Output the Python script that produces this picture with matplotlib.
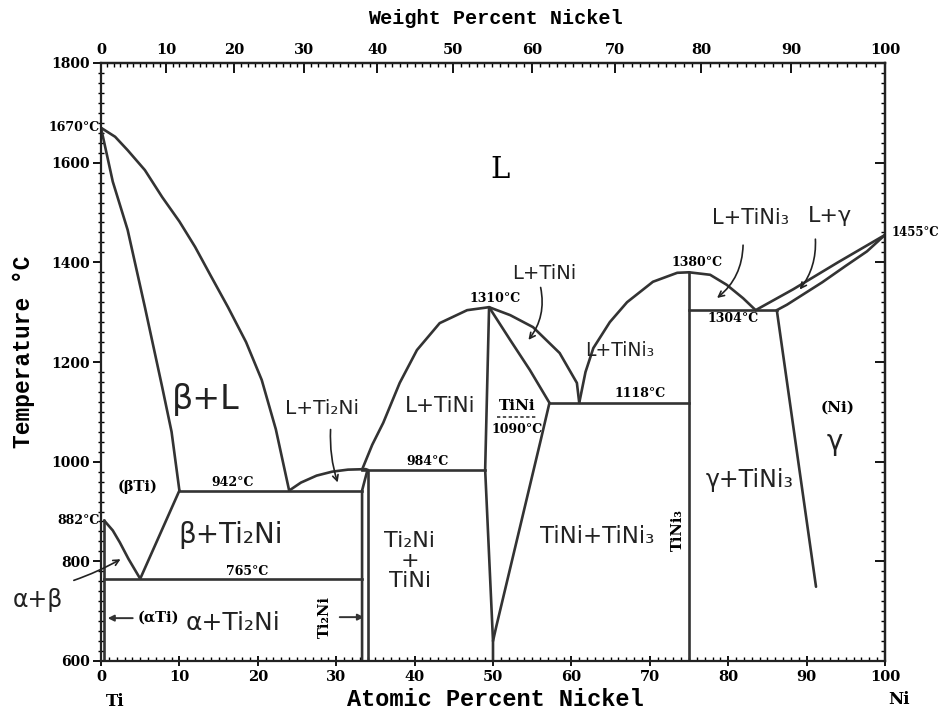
import numpy as np
import matplotlib
matplotlib.use('Agg')
from matplotlib import pyplot as plt
from matplotlib.ticker import MultipleLocator, FixedLocator

###################
# Phase boundaries (atomic % Ni, temperature C)
###################
liq_ti_x = [0, 1.8, 3.4, 5.6, 7.8, 10, 12, 14, 16.2, 18.5, 20.5, 22.3, 24]
liq_ti_t = [1670, 1652, 1625, 1585, 1531, 1482, 1431, 1373, 1310, 1240, 1164, 1065, 942]

sol_ti_x = [0, 1.5, 3.4, 5.6, 7.8, 9.0, 10]
sol_ti_t = [1670, 1562, 1465, 1310, 1150, 1060, 942]

beta_tr_x = [10, 5]
beta_tr_t = [942, 765]

alpha_tr_x = [0.4, 1.5, 2.4, 3.5, 5]
alpha_tr_t = [882, 862, 838, 805, 765]

alpha_sol_x = [0.4, 0.4]
alpha_sol_t = [882, 600]

liq_ti2ni_x = [24, 25.5, 27.5, 29.5, 31.5, 33.8]
liq_ti2ni_t = [942, 958, 972, 980, 984, 985]

ti2ni_left_x = [33.3, 33.3, 34.0]
ti2ni_left_t = [600, 942, 984]
ti2ni_right_x = [34.0, 34.0]
ti2ni_right_t = [984, 600]

liq_tini_l_x = [33.3, 34.6, 36.0, 38.1, 40.3, 43.2, 46.7, 49.5]
liq_tini_l_t = [984, 1034, 1078, 1158, 1224, 1278, 1304, 1310]

tini_left_x = [49.5, 49.0, 50.0, 50.0]
tini_left_t = [1310, 984, 640, 600]

sol_tini_x = [49.5, 52.2, 54.7, 57.2]
sol_tini_t = [1310, 1244, 1184, 1118]

tini_right_x = [57.2, 56.1, 50.4, 50.0]
tini_right_t = [1118, 1044, 668, 640]

liq_tini_r_x = [49.5, 52.2, 55.1, 58.5, 60.7, 61.0]
liq_tini_r_t = [1310, 1294, 1270, 1218, 1158, 1118]

liq_tini3_l_x = [61.0, 61.8, 62.8, 64.9, 67.1, 70.4, 73.5, 75.0]
liq_tini3_l_t = [1118, 1180, 1228, 1280, 1320, 1361, 1379, 1380]

liq_tini3_r_x = [75.0, 77.7, 79.8, 81.9, 83.5]
liq_tini3_r_t = [1380, 1375, 1355, 1328, 1304]

tini3_x = [75, 75]
tini3_t = [1380, 600]

gamma_sol_x = [86.2, 91.2]
gamma_sol_t = [1304, 749]

liq_ni_x = [83.5, 88.3, 94, 100]
liq_ni_t = [1304, 1346, 1400, 1455]

sol_ni_x = [86.2, 87.5, 89.2, 92, 95, 97.7, 100]
sol_ni_t = [1304, 1315, 1332, 1360, 1393, 1422, 1455]

# horizontal invariant lines: (x start, x end, temperature)
iso_x0 = [0.4, 10, 33.3, 57.2, 75]
iso_x1 = [33.3, 33.3, 49.0, 75, 86.2]
iso_t = [765, 942, 984, 1118, 1304]

# colours / fonts
line_col = '#333333'
lw = 1.9
hand = 'DejaVu Sans'
printed = ['DejaVu Serif']
mono = ['Liberation Mono', 'DejaVu Sans Mono']

M_NI = 58.69
M_TI = 47.87


def at_to_wt(a):
    a = np.asarray(a, dtype=float)
    return 100 * a * M_NI / (a * M_NI + (100 - a) * M_TI)


def wt_to_at(w):
    w = np.asarray(w, dtype=float)
    return 100 * (w / M_NI) / (w / M_NI + (100 - w) / M_TI)


fig = plt.figure(figsize=(9.43, 7.11), dpi=100)
ax = fig.add_axes([101 / 943, 50 / 711, 784 / 943, 598 / 711])
ax.set_xlim(0, 100)
ax.set_ylim(600, 1800)

curves = [
    (liq_ti_x, liq_ti_t), (sol_ti_x, sol_ti_t), (beta_tr_x, beta_tr_t),
    (alpha_tr_x, alpha_tr_t), (alpha_sol_x, alpha_sol_t),
    (liq_ti2ni_x, liq_ti2ni_t), (ti2ni_left_x, ti2ni_left_t),
    (ti2ni_right_x, ti2ni_right_t), (liq_tini_l_x, liq_tini_l_t),
    (tini_left_x, tini_left_t), (sol_tini_x, sol_tini_t),
    (tini_right_x, tini_right_t), (liq_tini_r_x, liq_tini_r_t),
    (liq_tini3_l_x, liq_tini3_l_t), (liq_tini3_r_x, liq_tini3_r_t),
    (tini3_x, tini3_t), (gamma_sol_x, gamma_sol_t),
    (liq_ni_x, liq_ni_t), (sol_ni_x, sol_ni_t),
]
for cx, ct in curves:
    ax.plot(cx, ct, color=line_col, lw=lw, solid_capstyle='round', solid_joinstyle='round')

for x0, x1, t in zip(iso_x0, iso_x1, iso_t):
    ax.plot([x0, x1], [t, t], color=line_col, lw=lw)

# dashed line under "TiNi"
ax.plot([50.5, 55.6], [1090, 1090], color=line_col, lw=1.2, ls=(0, (2, 1.5)))

# Axes styling
for s in ax.spines.values():
    s.set_linewidth(1.6)
    s.set_color('#222222')

ax.xaxis.set_major_locator(MultipleLocator(10))
ax.xaxis.set_minor_locator(MultipleLocator(1))
ax.yaxis.set_major_locator(MultipleLocator(200))
ax.yaxis.set_minor_locator(MultipleLocator(20))
ax.tick_params(axis='x', which='major', direction='inout', length=7, width=1.3,
               labelsize=10.5, pad=3)
ax.tick_params(axis='x', which='minor', direction='in', length=3, width=1)
ax.tick_params(axis='y', which='major', direction='out', length=6, width=1.3,
               labelsize=10, pad=2)
ax.tick_params(axis='y', which='minor', direction='inout', length=4, width=1)
for lab in ax.get_xticklabels() + ax.get_yticklabels():
    lab.set_fontfamily(printed)
    lab.set_fontweight('bold')

# right axis: inward ticks, no labels
right = ax.secondary_yaxis('right')
right.yaxis.set_major_locator(MultipleLocator(200))
right.yaxis.set_minor_locator(MultipleLocator(20))
right.tick_params(which='major', direction='in', length=7, width=1.3, labelright=False)
right.tick_params(which='minor', direction='in', length=3, width=1)
right.spines['right'].set_linewidth(1.6)

# top axis: weight percent
top = ax.secondary_xaxis('top', functions=(at_to_wt, wt_to_at))
top.xaxis.set_major_locator(FixedLocator(np.arange(0, 101, 10)))
top.xaxis.set_minor_locator(FixedLocator(np.arange(0, 101, 1)))
top.tick_params(which='major', direction='in', length=7, width=1.3, labelsize=10.5, pad=4)
top.tick_params(which='minor', direction='in', length=3, width=1)
top.spines['top'].set_linewidth(1.6)
for lab in top.get_xticklabels():
    lab.set_fontfamily(printed)
    lab.set_fontweight('bold')

fig.text(495 / 943, 1 - 19 / 711, 'Weight Percent Nickel', fontsize=14.5, fontweight='bold',
         family=mono, ha='center', va='center')
fig.text(495 / 943, 1 - 700 / 711, 'Atomic Percent Nickel', fontsize=17, fontweight='bold',
         family=mono, ha='center', va='center')
fig.text(24 / 943, 1 - 352 / 711, 'Temperature °C', fontsize=16.5, fontweight='bold',
         family=mono, ha='center', va='center', rotation=90)
fig.text(115 / 943, 1 - 702 / 711, 'Ti', fontsize=12, fontweight='bold', family=printed,
         ha='center', va='center')
fig.text(899 / 943, 1 - 700 / 711, 'Ni', fontsize=12, fontweight='bold', family=printed,
         ha='center', va='center')

# printed temperature labels
pkw = dict(fontsize=9, fontweight='bold', family=printed, ha='center', va='center')
ax.text(-0.2, 1670, '1670°C', ha='right', va='center', fontsize=9, fontweight='bold',
        family=printed, clip_on=False)
ax.text(-0.2, 882, '882°C', ha='right', va='center', fontsize=9, fontweight='bold',
        family=printed, clip_on=False)
ax.text(100.8, 1460, '1455°C', ha='left', va='center', fontsize=8.5, fontweight='bold',
        family=printed, clip_on=False)
ax.text(16.8, 959, '942°C', **pkw)
ax.text(18.6, 779, '765°C', **pkw)
ax.text(41.6, 1000, '984°C', **pkw)
ax.text(50.3, 1327, '1310°C', **pkw)
ax.text(68.8, 1136, '1118°C', **pkw)
ax.text(76.0, 1400, '1380°C', **pkw)
ax.text(80.6, 1287, '1304°C', **pkw)
ax.text(53.1, 1064, '1090°C', **pkw)
ax.text(53.1, 1112, 'TiNi', fontsize=11, fontweight='bold', family=printed, ha='center', va='center')
ax.text(4.7, 949, '(βTi)', fontsize=10.5, fontweight='bold', family=printed, ha='center', va='center')
ax.text(7.3, 686, '(αTi)', fontsize=10.5, fontweight='bold', family=printed, ha='center', va='center')
ax.text(93.9, 1108, '(Ni)', fontsize=11, fontweight='bold', family=printed, ha='center', va='center')
ax.text(73.6, 863, 'TiNi₃', fontsize=10.5, fontweight='bold', family=printed, ha='center',
        va='center', rotation=90)
ax.text(28.6, 688, 'Ti₂Ni', fontsize=10.5, fontweight='bold', family=printed, ha='center',
        va='center', rotation=90)
ax.text(50.9, 1586, 'L', fontsize=21, family=printed, ha='center', va='center')

# arrows beside printed labels
akw = dict(arrowstyle='-|>', color=line_col, lw=1.4, mutation_scale=9)
ax.annotate('', xy=(0.5, 686), xytext=(4.4, 686), arrowprops=akw)
ax.annotate('', xy=(33.9, 688), xytext=(30.1, 688), arrowprops=akw)

# handwritten phase labels
hkw = dict(family=hand, ha='center', va='center', color='#222222')
ax.text(13.3, 1124, 'β+L', fontsize=24, **hkw)
ax.text(16.5, 853, 'β+Ti₂Ni', fontsize=20, **hkw)
ax.text(16.8, 676, 'α+Ti₂Ni', fontsize=18, **hkw)
ax.text(28.2, 1106, 'L+Ti₂Ni', fontsize=14.5, **hkw)
ax.text(43.2, 1112, 'L+TiNi', fontsize=15.5, **hkw)
ax.text(39.4, 800, 'Ti₂Ni\n+\nTiNi', fontsize=16, linespacing=1.0, **hkw)
ax.text(63.3, 849, 'TiNi+TiNi₃', fontsize=16.5, **hkw)
ax.text(66.2, 1224, 'L+TiNi₃', fontsize=13.5, **hkw)
ax.text(82.8, 963, 'γ+TiNi₃', fontsize=17, **hkw)
ax.text(93.6, 1040, 'γ', fontsize=20, **hkw)
ax.text(56.6, 1378, 'L+TiNi', fontsize=14, **hkw)
ax.text(82.8, 1488, 'L+TiNi₃', fontsize=15, **hkw)
ax.text(93.0, 1492, 'L+γ', fontsize=16, **hkw)
ax.text(-8.0, 722, 'α+β', fontsize=17, clip_on=False, **hkw)

hak = dict(arrowstyle='->', color='#222222', lw=1.2, mutation_scale=10)
ax.annotate('', xy=(30.3, 953), xytext=(29.3, 1070),
            arrowprops=dict(connectionstyle='arc3,rad=0.1', **hak))
ax.annotate('', xy=(54.3, 1240), xytext=(56.0, 1355),
            arrowprops=dict(connectionstyle='arc3,rad=-0.25', **hak))
ax.annotate('', xy=(78.3, 1325), xytext=(81.9, 1440),
            arrowprops=dict(connectionstyle='arc3,rad=-0.25', **hak))
ax.annotate('', xy=(88.9, 1341), xytext=(91.1, 1452),
            arrowprops=dict(connectionstyle='arc3,rad=-0.2', **hak))
ax.annotate('', xy=(2.8, 807), xytext=(-3.8, 760), annotation_clip=False,
            arrowprops=dict(connectionstyle='arc3,rad=0.05', **hak))

fig.savefig('out.png', dpi=100)
